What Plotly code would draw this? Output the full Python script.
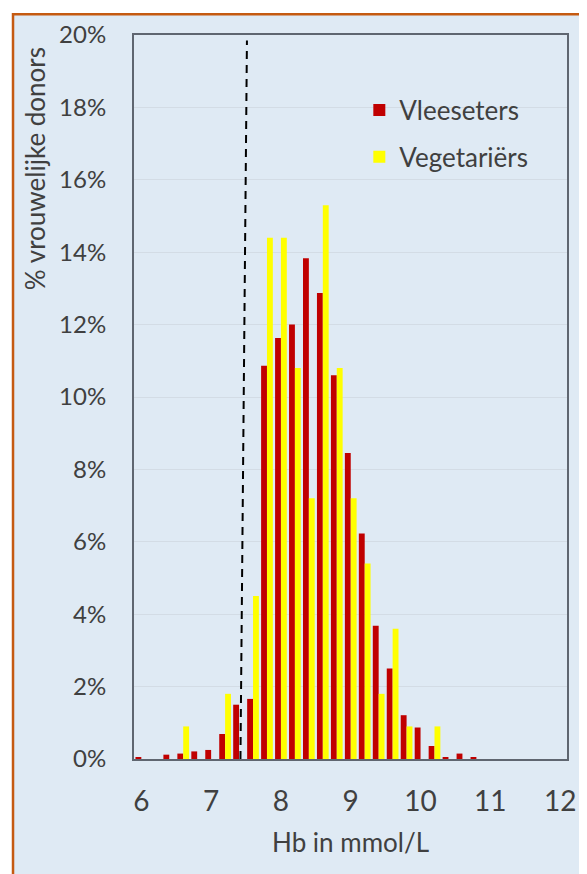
import plotly.graph_objects as go

# Hb bin centres (mmol/L)
hb_bins = [6.0, 6.2, 6.4, 6.6, 6.8, 7.0, 7.2, 7.4, 7.6, 7.8, 8.0, 8.2, 8.4,
           8.6, 8.8, 9.0, 9.2, 9.4, 9.6, 9.8, 10.0, 10.2, 10.4, 10.6, 10.8, 11.0]

# % of female donors per bin
vleeseters = [0.05, 0.0, 0.12, 0.15, 0.21, 0.25, 0.69, 1.50, 1.66, 10.86, 11.63, 12.0, 13.83,
              12.87, 10.6, 8.45, 6.23, 3.68, 2.5, 1.21, 0.87, 0.36, 0.03, 0.15, 0.03, 0.0]
vegetariers = [0.0, 0.0, 0.0, 0.9, 0.0, 0.0, 1.8, 0.0, 4.5, 14.4, 14.4, 10.8, 7.2,
               15.3, 10.8, 7.2, 5.4, 1.8, 3.6, 0.9, 0.0, 0.9, 0.0, 0.0, 0.0, 0.0]

x_ticks = [6, 7, 8, 9, 10, 11, 12]
y_ticks = [0, 2, 4, 6, 8, 10, 12, 14, 16, 18, 20]
y_ticklabels = [f"{v}%" for v in y_ticks]

# dashed cut-off line (drawn slightly slanted as in the original)
cutoff_x_bottom = 7.42
cutoff_x_top = 7.513
cutoff_y_top = 19.85

series_names = ["Vleeseters", "Vegetariërs"]

# the page body has an 8px margin, so the figure is sized to fill the rest
OFF = 8
W, H = 587 - OFF, 874 - OFF
ML, MR, MT, MB = 134 - OFF, 11, 30 - OFF, 115
PW = W - ML - MR
PH = H - MT - MB

def px_to_paper_x(px):
    # px given in page coordinates
    return (px - OFF - ML) / PW

def py_to_paper_y(py):
    return 1 - (py - OFF - MT) / PH

BG = "#DFEAF4"
ORANGE = "#C55A11"
FONT = "Lato"

fig = go.Figure()
fig.add_trace(go.Bar(x=hb_bins, y=vleeseters, name=series_names[0],
                     marker=dict(color="#C00000", line=dict(width=0)),
                     legendgroup="a"))
fig.add_trace(go.Bar(x=hb_bins, y=vegetariers, name=series_names[1],
                     marker=dict(color="#FFFF00", line=dict(width=0)),
                     legendgroup="b"))

# background card with orange border
fig.add_shape(type="rect", xref="paper", yref="paper",
              x0=px_to_paper_x(10.5), x1=px_to_paper_x(640),
              y0=py_to_paper_y(940), y1=py_to_paper_y(9.2),
              fillcolor=BG, line=dict(color=ORANGE, width=2.5), layer="below")

# dashed reference line
fig.add_shape(type="line", xref="x", yref="y",
              x0=cutoff_x_bottom, y0=0, x1=cutoff_x_top, y1=cutoff_y_top,
              line=dict(color="black", width=2, dash="8px,6px"))

fig.add_annotation(text="% vrouwelijke donors", xref="paper", yref="paper",
                   x=px_to_paper_x(33), y=py_to_paper_y(165), textangle=-90,
                   showarrow=False, xanchor="center", yanchor="middle",
                   font=dict(family=FONT, size=26, color="#404040"))
fig.add_annotation(text="Hb in mmol/L", xref="paper", yref="paper",
                   x=0.5, y=py_to_paper_y(843), showarrow=False,
                   xanchor="center", yanchor="middle",
                   font=dict(family=FONT, size=26, color="#404040"))

fig.update_layout(
    width=W, height=H,
    margin=dict(l=ML, r=MR, t=MT, b=MB),
    paper_bgcolor="white",
    plot_bgcolor="rgba(0,0,0,0)",
    barmode="group", bargap=0.16, bargroupgap=0,
    font=dict(family=FONT, color="#595959"),
    legend=dict(x=px_to_paper_x(364), y=py_to_paper_y(82), xanchor="left", yanchor="top",
                bgcolor="rgba(0,0,0,0)", font=dict(family=FONT, size=26, color="#404040"),
                tracegroupgap=10, traceorder="grouped", itemsizing="constant"),
    showlegend=True,
)
fig.update_xaxes(range=[5.895, 12.098], tickvals=x_ticks, ticktext=[str(v) for v in x_ticks],
                 showgrid=False, zeroline=False,
                 showline=True, linecolor="#5f6670", linewidth=2, mirror=True,
                 ticks="", ticklabelstandoff=16,
                 tickfont=dict(family=FONT, size=28, color="#404040"))
fig.update_yaxes(range=[0, 20], tickvals=y_ticks, ticktext=y_ticklabels,
                 showgrid=True, gridcolor="#D3DCE5", gridwidth=1, zeroline=False,
                 showline=True, linecolor="#5f6670", linewidth=2, mirror=True,
                 ticks="", ticklabelstandoff=21,
                 tickfont=dict(family=FONT, size=24, color="#404040"))

fig.write_html("out.html")
